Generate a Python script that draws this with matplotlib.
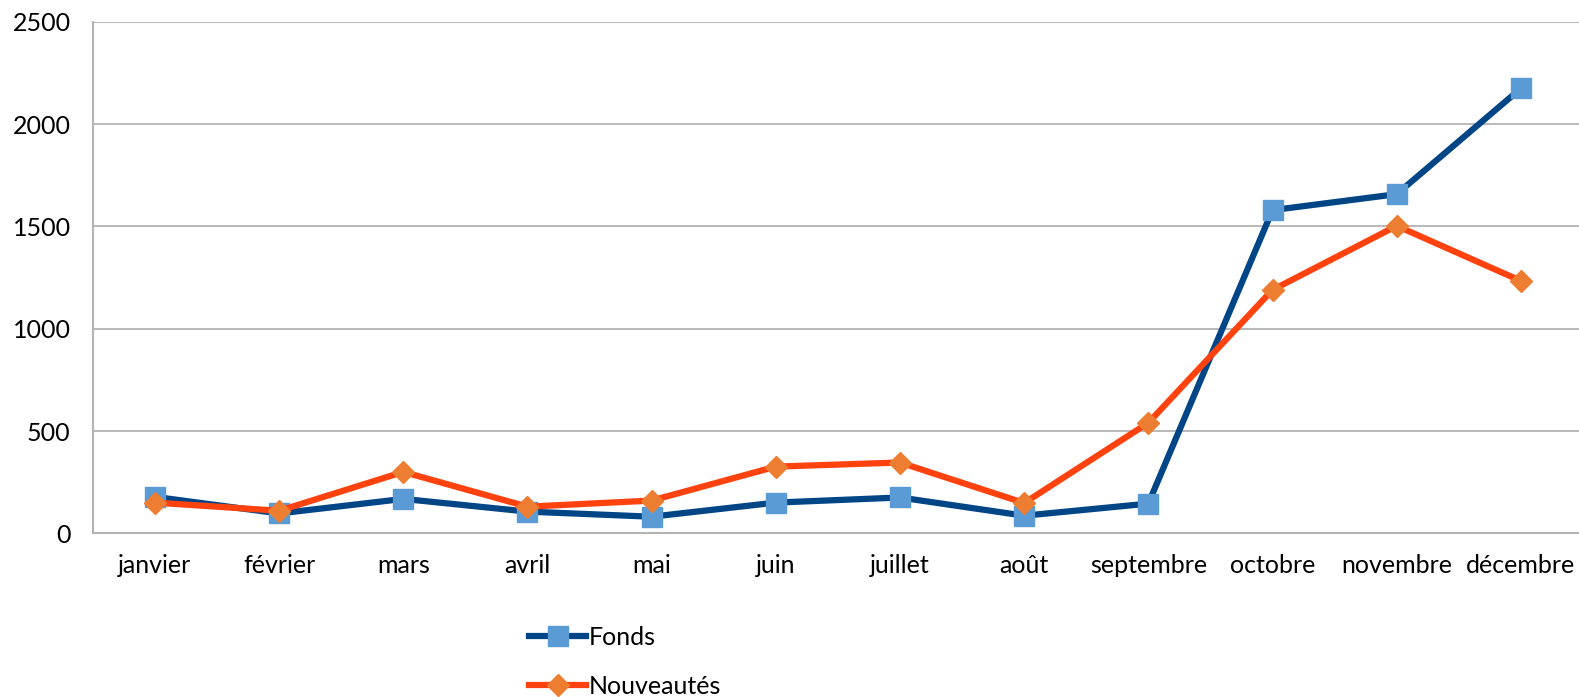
import matplotlib
matplotlib.use('Agg')
import matplotlib.pyplot as plt

plt.rcParams['font.family'] = ['Lato', 'DejaVu Sans']

months = ['janvier', 'février', 'mars', 'avril', 'mai', 'juin',
          'juillet', 'août', 'septembre', 'octobre', 'novembre', 'décembre']
fonds = [178, 97, 168, 106, 81, 150, 175, 86, 145, 1580, 1658, 2175]
nouveautes = [150, 110, 300, 130, 160, 326, 346, 148, 540, 1190, 1503, 1234]
y_ticks = [0, 500, 1000, 1500, 2000, 2500]

fig = plt.figure(figsize=(15.79, 6.97), dpi=100)
ax = fig.add_axes([0.0588, 0.2349, 0.9437, 0.7336])

x = list(range(len(months)))
ax.plot(x, fonds, color='#004586', lw=4.5, marker='s', ms=14,
        mfc='#5B9BD5', mec='#5B9BD5', label='Fonds', zorder=3)
ax.plot(x, nouveautes, color='#FF420E', lw=4.5, marker='D', ms=11,
        mfc='#ED7D31', mec='#ED7D31', label='Nouveautés', zorder=4)

ax.set_xlim(-0.5, len(months) - 0.5)
ax.set_ylim(0, 2500)
ax.set_yticks(y_ticks)
ax.set_xticks(x)
ax.set_xticklabels(months)
ax.tick_params(length=0, labelsize=18)
ax.tick_params(axis='y', pad=16)
ax.tick_params(axis='x', pad=15)
ax.grid(axis='y', color='#b3b3b3', lw=1.3)
ax.set_axisbelow(True)
for side in ['top', 'right']:
    ax.spines[side].set_visible(False)
for side in ['left', 'bottom']:
    ax.spines[side].set_color('#b3b3b3')
    ax.spines[side].set_linewidth(1.5)

fig.legend(loc='upper left', bbox_to_anchor=(0.335, 0.102), frameon=False,
           fontsize=18, handlelength=2.3, handletextpad=0.1,
           labelspacing=1.05, borderaxespad=0, borderpad=0)

fig.savefig('out.png', dpi=100)
